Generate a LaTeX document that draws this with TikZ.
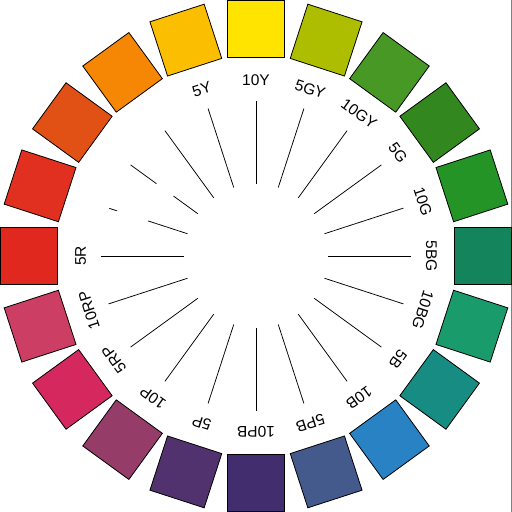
\documentclass[tikz,border=0pt]{standalone}
\usepackage{fontspec}
\setmainfont{Liberation Sans}
\definecolor{cA}{HTML}{FFE400}
\definecolor{cB}{HTML}{ADBE00}
\definecolor{cC}{HTML}{489826}
\definecolor{cD}{HTML}{32871E}
\definecolor{cE}{HTML}{249426}
\definecolor{cF}{HTML}{14845C}
\definecolor{cG}{HTML}{1A9B6C}
\definecolor{cH}{HTML}{168C82}
\definecolor{cI}{HTML}{2882C3}
\definecolor{cJ}{HTML}{445A8C}
\definecolor{cK}{HTML}{422E6E}
\definecolor{cL}{HTML}{52326E}
\definecolor{cM}{HTML}{963C69}
\definecolor{cN}{HTML}{D4285F}
\definecolor{cO}{HTML}{CD3E64}
\definecolor{cP}{HTML}{E1281E}
\definecolor{cQ}{HTML}{E13020}
\definecolor{cR}{HTML}{E15014}
\definecolor{cS}{HTML}{F58705}
\definecolor{cT}{HTML}{FCBE00}
\begin{document}
\begin{tikzpicture}[x=1pt,y=1pt,
  sq/.style={draw=black,line width=0.8pt,minimum size=57pt,inner sep=0pt,outer sep=0pt},
  lbl/.style={font=\fontsize{15.5}{18}\selectfont,inner sep=0pt},
  spoke/.style={line width=0.75pt,black}]
\useasboundingbox (-256,-256) rectangle (256,256);
\draw[gray,line width=1pt] (255.3,-256) -- (255.3,256);
\foreach \a/\c/\n in {90/cA/a,72/cB/b,54/cC/c,36/cD/d,18/cE/e,0/cF/f,-18/cG/g,-36/cH/h,-54/cI/i,-72/cJ/j,-90/cK/k,-108/cL/l,-126/cM/m,-144/cN/n,-162/cO/o,180/cP/p,162/cQ/q,144/cR/r,126/cS/s,108/cT/t}{
  \node[sq,fill=\c,rotate=\a-90] (sq\n) at (\a:227) {};
}
\foreach \a/\t/\n in {90/10Y/a,72/5GY/b,54/10GY/c,36/5G/d,18/10G/e,0/5BG/f,-18/10BG/g,-36/5B/h,-54/10B/i,-72/5PB/j,-90/10PB/k,-108/5P/l,-126/10P/m,-144/5RP/n,-162/10RP/o,180/5R/p,108/5Y/t}{
  \node[lbl,rotate=\a-90] (lb\n) at (\a:175.5) {\t};
}
\foreach \a/\n in {90/a,72/b,54/c,36/d,18/e,0/f,-18/g,-36/h,-54/i,-72/j,-90/k,-108/l,-126/m,-144/n,-162/o,180/p,126/s,108/t}{
  \coordinate (pi\n) at (\a:72);
  \coordinate (po\n) at (\a:155);
  \draw[spoke] (pi\n) -- (po\n);
}
\coordinate (rA) at (144:72);
\coordinate (rB) at (144:102);
\coordinate (rC) at (144:123);
\coordinate (rD) at (144:155);
\draw[spoke] (rA) -- (rB);
\draw[spoke] (rC) -- (rD);
\coordinate (qA) at (162:72);
\coordinate (qB) at (162:113.5);
\coordinate (qC) at (162:146);
\coordinate (qD) at (162:154.3);
\draw[spoke] (qA) -- (qB);
\draw[spoke] (qC) -- (qD);
\end{tikzpicture}
\end{document}
